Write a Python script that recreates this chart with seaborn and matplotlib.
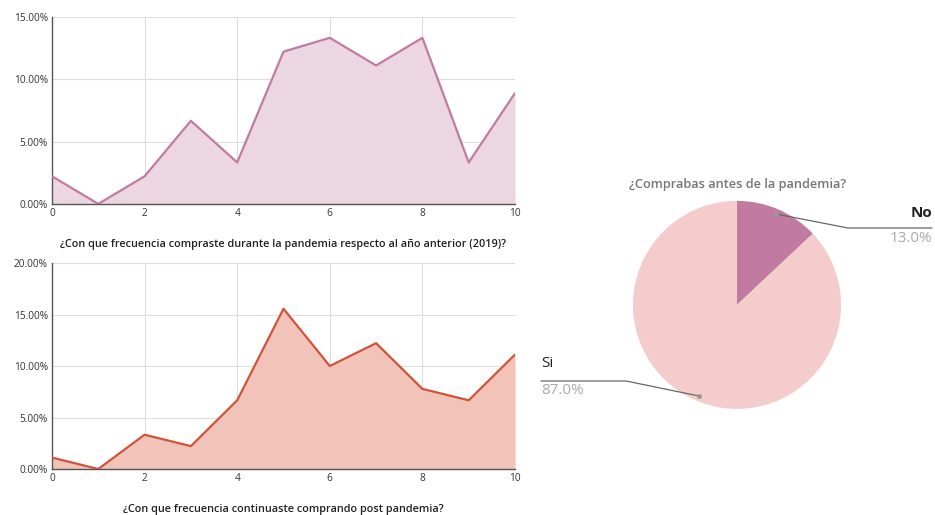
import numpy as np
import pandas as pd
import matplotlib
matplotlib.use("Agg")
import matplotlib.pyplot as plt
from matplotlib.ticker import FuncFormatter
import seaborn as sns

# datos
escala = [0, 1, 2, 3, 4, 5, 6, 7, 8, 9, 10]
durante_pandemia = [2.22, 0.0, 2.22, 6.67, 3.33, 12.22, 13.33, 11.11, 13.33, 3.33, 8.89]
post_pandemia = [1.11, 0.0, 3.33, 2.22, 6.67, 15.56, 10.0, 12.22, 7.78, 6.67, 11.11]
respuestas = ["No", "Si"]
porcentajes = [13.0, 87.0]

titulo_1 = "¿Con que frecuencia compraste durante la pandemia respecto al año anterior (2019)?"
titulo_2 = "¿Con que frecuencia continuaste comprando post pandemia?"
titulo_pie = "¿Comprabas antes de la pandemia?"

sns.set_theme(style="white")
plt.rcParams["font.family"] = ["Open Sans", "DejaVu Sans"]

fig = plt.figure(figsize=(9.35, 5.15), dpi=100)

ax1 = fig.add_axes([0.0556, 0.604, 0.4952, 0.363])
ax2 = fig.add_axes([0.0556, 0.0893, 0.4952, 0.4])
ax3 = fig.add_axes([0.677, 0.206, 0.2225, 0.404])


def area(ax, valores, color_linea, color_relleno, ymax, titulo):
    df = pd.DataFrame({"x": escala, "y": valores})
    ax.fill_between(df["x"], df["y"], 0, color=color_relleno, lw=0, zorder=1)
    sns.lineplot(data=df, x="x", y="y", ax=ax, color=color_linea, lw=1.6, zorder=3)
    ax.set_xlim(0, 10)
    ax.set_ylim(0, ymax)
    ax.set_xticks([0, 2, 4, 6, 8, 10])
    ax.set_yticks(np.arange(0, ymax + 0.1, 5))
    ax.yaxis.set_major_formatter(FuncFormatter(lambda v, p: f"{v:.2f}%"))
    ax.grid(True, color="#dddddd", lw=0.8, zorder=0)
    ax.set_axisbelow(True)
    for s in ["top", "right"]:
        ax.spines[s].set_visible(False)
    for s in ["left", "bottom"]:
        ax.spines[s].set_color("#555555")
        ax.spines[s].set_linewidth(1.0)
    ax.tick_params(axis="both", labelsize=7.3, colors="#333333", length=0, pad=3)
    ax.set_xlabel(titulo, fontsize=7.8, fontweight="semibold", color="#222222", labelpad=14)
    ax.set_ylabel("")


area(ax1, durante_pandemia, "#c27ba0", "#ecd6e2", 15, titulo_1)
area(ax2, post_pandemia, "#d0533a", "#f2c4b9", 20, titulo_2)

# pie
ax3.pie(porcentajes, colors=["#c27ba0", "#f4cccc"], startangle=90,
        counterclock=False, wedgeprops={"linewidth": 0})
ax3.set_aspect("equal")
ax3.set_xlim(-1, 1)
ax3.set_ylim(-1, 1)
fig.text(0.789, 0.642, titulo_pie, ha="center", va="center", fontsize=9.2,
         fontweight="semibold", color="#757575")

# etiquetas con líneas guía (coordenadas de figura)
def fx(px):
    return px / 935


def fy(py):
    return 1 - py / 515


fig.add_artist(plt.Line2D([fx(776), fx(848), fx(932)], [fy(214), fy(228), fy(228)],
                          color="#666666", lw=0.9))
fig.add_artist(plt.Line2D([fx(776)], [fy(214)], marker="o", ms=2.5, color="#999999"))
fig.text(fx(932), fy(220), respuestas[0], ha="right", va="bottom", fontsize=11,
         fontweight="bold", color="#222222")
fig.text(fx(932), fy(231), f"{porcentajes[0]:.1f}%", ha="right", va="top", fontsize=11,
         color="#aaaaaa")

fig.add_artist(plt.Line2D([fx(541), fx(626), fx(699)], [fy(381), fy(381), fy(396)],
                          color="#666666", lw=0.9))
fig.add_artist(plt.Line2D([fx(699)], [fy(396)], marker="o", ms=2.5, color="#999999"))
fig.text(fx(541), fy(371), respuestas[1], ha="left", va="bottom", fontsize=11,
         color="#222222")
fig.text(fx(541), fy(383), f"{porcentajes[1]:.1f}%", ha="left", va="top", fontsize=11,
         color="#aaaaaa")

fig.savefig("out.png", dpi=100, facecolor="white")
